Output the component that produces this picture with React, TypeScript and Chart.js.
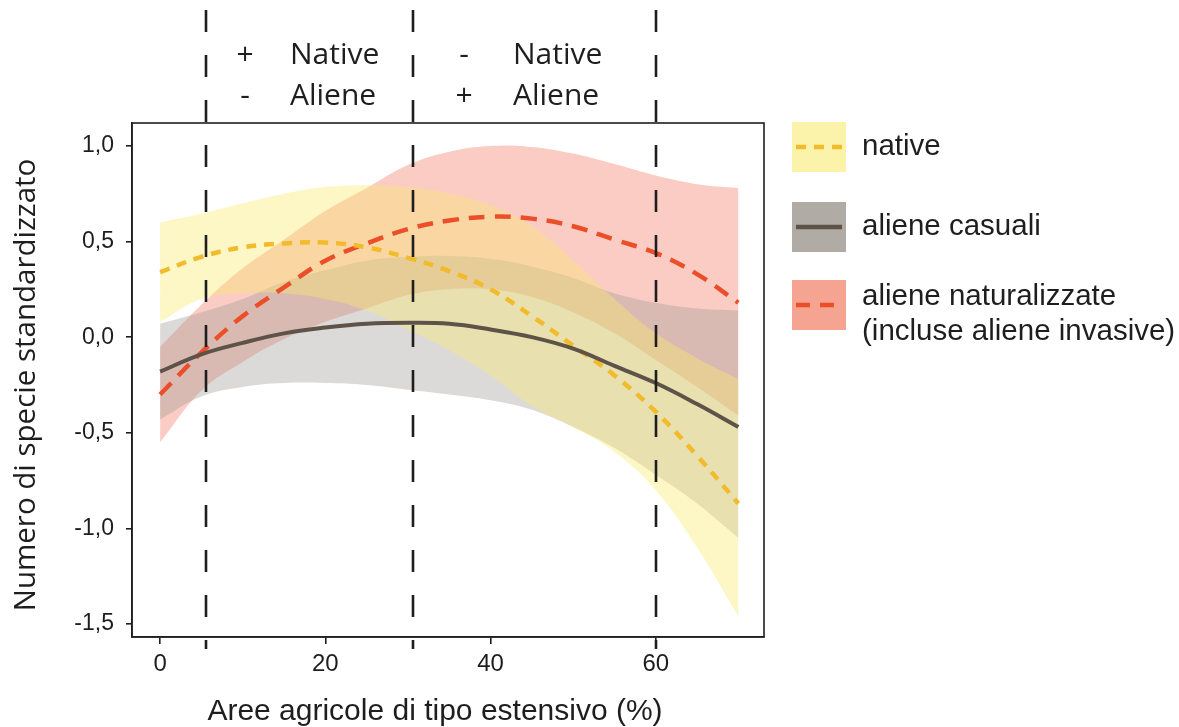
import React, { useEffect, useRef } from 'react';
import { Chart, registerables } from 'chart.js';

Chart.register(...registerables);

// ---------- data ----------
const xValues = [0, 5, 10, 15, 20, 25, 30, 35, 40, 45, 50, 55, 60, 65, 70];

const nativeMean = [0.34, 0.42, 0.47, 0.49, 0.495, 0.47, 0.415, 0.345, 0.25, 0.11, -0.045, -0.2, -0.39, -0.62, -0.87];
const nativeUpper = [0.6, 0.645, 0.7, 0.75, 0.785, 0.795, 0.785, 0.75, 0.69, 0.58, 0.4, 0.2, 0.02, -0.11, -0.22];
const nativeLower = [0.08, 0.2, 0.23, 0.23, 0.2, 0.14, 0.04, -0.07, -0.2, -0.36, -0.47, -0.6, -0.8, -1.1, -1.46];

const casualiMean = [-0.18, -0.09, -0.03, 0.02, 0.05, 0.07, 0.075, 0.07, 0.04, 0.0, -0.06, -0.15, -0.24, -0.35, -0.47];
const casualiUpper = [0.07, 0.13, 0.2, 0.29, 0.35, 0.4, 0.42, 0.425, 0.41, 0.37, 0.31, 0.23, 0.18, 0.15, 0.14];
const casualiLower = [-0.43, -0.31, -0.26, -0.24, -0.24, -0.25, -0.275, -0.3, -0.33, -0.38, -0.47, -0.58, -0.72, -0.87, -1.05];

const naturMean = [-0.3, -0.08, 0.11, 0.26, 0.4, 0.49, 0.565, 0.61, 0.63, 0.62, 0.58, 0.51, 0.44, 0.33, 0.18];
const naturUpper = [-0.05, 0.17, 0.36, 0.51, 0.66, 0.78, 0.9, 0.97, 1.0, 0.995, 0.96, 0.905, 0.845, 0.8, 0.78];
const naturLower = [-0.55, -0.28, -0.13, -0.01, 0.08, 0.15, 0.22, 0.25, 0.25, 0.21, 0.13, 0.02, -0.12, -0.26, -0.41];

const xTicks = [0, 20, 40, 60];
const yTicks = [-1.5, -1.0, -0.5, 0.0, 0.5, 1.0];
const boundaries = [5.5, 30.6, 60];

const headerSigns = [['+', '-'], ['-', '+']];
const headerWords = ['Native', 'Aliene'];

const legendLabels = [['native'], ['aliene casuali'], ['aliene naturalizzate', '(incluse aliene invasive)']];

const xTitle = 'Aree agricole di tipo estensivo (%)';
const yTitle = 'Numero di specie standardizzato';

// ---------- styles ----------
const YELLOW_FILL = 'rgba(250, 232, 110, 0.4)';
const GRAY_FILL = 'rgba(160, 155, 150, 0.37)';
const RED_FILL = 'rgba(240, 110, 85, 0.35)';
const YELLOW_LINE = '#F2BB2B';
const GRAY_LINE = '#5E5349';
const RED_LINE = '#EA4F2A';
const INK = '#1e1e1e';
const TENSION = 0.4;

const pts = (ys: number[]) => xValues.map((x, i) => ({ x, y: ys[i] }));

function band(upper: number[], lower: number[], color: string, order: number) {
  return [
    {
      data: pts(upper),
      borderColor: 'transparent',
      borderWidth: 0,
      pointRadius: 0,
      fill: false,
      order,
      tension: TENSION,
    },
    {
      data: pts(lower),
      borderColor: 'transparent',
      borderWidth: 0,
      pointRadius: 0,
      fill: '-1',
      backgroundColor: color,
      order,
      tension: TENSION,
    },
  ];
}

const overlay = {
  id: 'overlay',
  afterDraw(chart: any) {
    const { ctx, chartArea, scales } = chart;
    const { left, right, top, bottom } = chartArea;
    ctx.save();

    // frame
    ctx.strokeStyle = INK;
    ctx.lineWidth = 1.6;
    ctx.setLineDash([]);
    ctx.strokeRect(left, top, right - left, bottom - top);

    // boundary dashed lines
    ctx.lineWidth = 2.6;
    ctx.setLineDash([22, 23]);
    ctx.lineDashOffset = 0;
    boundaries.forEach((b) => {
      const px = Math.round(scales.x.getPixelForValue(b));
      ctx.beginPath();
      ctx.moveTo(px, 10);
      ctx.lineTo(px, 649);
      ctx.stroke();
    });
    ctx.setLineDash([]);

    // header
    ctx.fillStyle = INK;
    ctx.font = '30px "Open Sans", sans-serif';
    ctx.textBaseline = 'middle';
    const signX = [245, 464];
    const wordX = [290, 513];
    const rowY = [55, 96];
    for (let r = 0; r < 2; r++) {
      for (let row = 0; row < 2; row++) {
        ctx.textAlign = 'center';
        ctx.fillText(headerSigns[r][row], signX[r], rowY[row]);
        ctx.textAlign = 'left';
        ctx.fillText(headerWords[row], wordX[r], rowY[row]);
      }
    }

    // axis titles
    ctx.font = '30px "Liberation Sans", Arial, sans-serif';
    ctx.textAlign = 'center';
    ctx.fillText(xTitle, 435, 712);
    ctx.save();
    ctx.translate(27, 385);
    ctx.rotate(-Math.PI / 2);
    ctx.font = '29.5px "Open Sans", sans-serif';
    ctx.fillText(yTitle, 0, 0);
    ctx.restore();

    // legend
    const boxes = [
      { y: 122, fill: '#FCF3AA', line: YELLOW_LINE, dash: [10, 8] },
      { y: 202, fill: '#B1ABA6', line: GRAY_LINE, dash: [] as number[] },
      { y: 280, fill: '#F4A490', line: RED_LINE, dash: [14, 10] },
    ];
    boxes.forEach((b, i) => {
      ctx.fillStyle = b.fill;
      ctx.fillRect(792, b.y, 54, 50);
      ctx.strokeStyle = b.line;
      ctx.lineWidth = 4.5;
      ctx.setLineDash(b.dash);
      ctx.beginPath();
      ctx.moveTo(796, b.y + 25);
      ctx.lineTo(842, b.y + 25);
      ctx.stroke();
      ctx.setLineDash([]);
      ctx.fillStyle = INK;
      ctx.font = '29.5px "Liberation Sans", Arial, sans-serif';
      ctx.textAlign = 'left';
      const lines = legendLabels[i];
      const base = lines.length === 1 ? b.y + 25 : b.y + 17;
      lines.forEach((t, k) => ctx.fillText(t, 862, base + k * 35));
    });

    ctx.restore();
  },
};

export default function App() {
  const ref = useRef<HTMLCanvasElement | null>(null);

  useEffect(() => {
    if (!ref.current) return;
    const chart = new Chart(ref.current, {
      type: 'line',
      data: {
        datasets: [
          {
            data: pts(casualiMean),
            borderColor: GRAY_LINE,
            borderWidth: 4,
            pointRadius: 0,
            fill: false,
            order: 0,
            tension: TENSION,
          },
          {
            data: pts(nativeMean),
            borderColor: YELLOW_LINE,
            borderWidth: 4.5,
            borderDash: [10, 8],
            pointRadius: 0,
            fill: false,
            order: 0,
            tension: TENSION,
          },
          {
            data: pts(naturMean),
            borderColor: RED_LINE,
            borderWidth: 4.5,
            borderDash: [16, 10],
            pointRadius: 0,
            fill: false,
            order: 0,
            tension: TENSION,
          },
          ...band(nativeUpper, nativeLower, YELLOW_FILL, 1),
          ...band(casualiUpper, casualiLower, GRAY_FILL, 2),
          ...band(naturUpper, naturLower, RED_FILL, 3),
        ] as any,
      },
      options: {
        responsive: false,
        animation: false,
        devicePixelRatio: 1,
        layout: { padding: { top: 123, right: 415, bottom: 0, left: 0 } },
        plugins: {
          legend: { display: false },
          tooltip: { enabled: false },
          filler: { propagate: false },
        },
        scales: {
          x: {
            type: 'linear',
            min: -3.4,
            max: 73.1,
            afterFit: (s: any) => {
              s.height = 90;
            },
            afterBuildTicks: (s: any) => {
              s.ticks = xTicks.map((value) => ({ value }));
            },
            grid: { drawOnChartArea: false, drawTicks: true, tickLength: 7, color: INK, lineWidth: 1.6 },
            border: { display: true, color: INK, width: 1.6 },
            ticks: {
              color: INK,
              font: { family: '"Liberation Sans", Arial, sans-serif', size: 24 },
              padding: 6,
              maxRotation: 0,
              callback: (v: any) => String(v),
            },
          },
          y: {
            type: 'linear',
            min: -1.568,
            max: 1.12,
            afterFit: (s: any) => {
              s.width = 132;
            },
            afterBuildTicks: (s: any) => {
              s.ticks = yTicks.map((value) => ({ value }));
            },
            grid: { drawOnChartArea: false, drawTicks: true, tickLength: 6, color: INK, lineWidth: 1.6 },
            border: { display: true, color: INK, width: 1.6 },
            ticks: {
              color: INK,
              font: { family: '"Liberation Sans", Arial, sans-serif', size: 23 },
              padding: 12,
              callback: (v: any) => Number(v).toFixed(1).replace('.', ','),
            },
          },
        },
      },
      plugins: [overlay],
    });
    return () => chart.destroy();
  }, []);

  return (
    <div style={{ position: 'absolute', left: 0, top: 0, width: 1179, height: 727, background: '#fff' }}>
      <canvas ref={ref} width={1179} height={727} />
    </div>
  );
}
